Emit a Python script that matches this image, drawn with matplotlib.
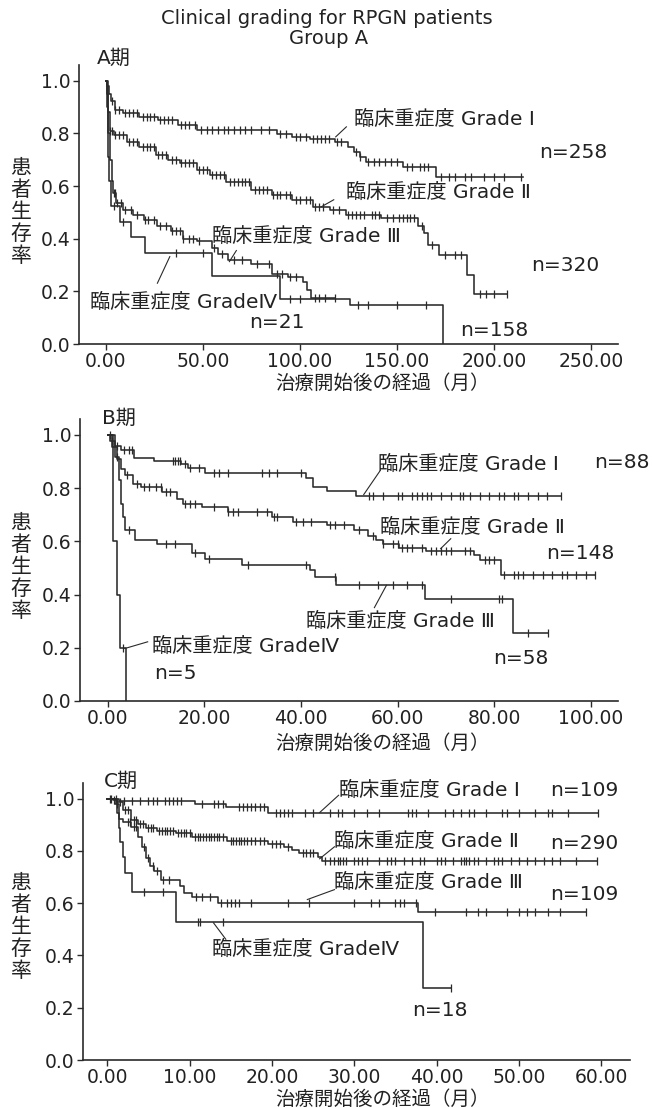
import numpy as np
import matplotlib
matplotlib.use('Agg')
import matplotlib.pyplot as plt
from matplotlib.ticker import FormatStrFormatter

plt.rcParams['font.family'] = ['DejaVu Sans', 'Noto Sans CJK JP']

INK = '#2a2a2a'
TXT = '#222222'
W, H = 652, 1108

# ---------------- A期 (months, survival) ----------------
a1_t = [0, 0.5, 1.5, 2.5, 4.5, 9, 17, 27, 37, 47, 88, 96, 105, 118, 125, 128, 131, 134, 153, 170, 215]
a1_s = [1.0, 0.98, 0.95, 0.925, 0.89, 0.877, 0.864, 0.85, 0.832, 0.812, 0.797, 0.787, 0.777, 0.768,
        0.75, 0.73, 0.71, 0.69, 0.673, 0.635, 0.635]
a1_c = [3, 5, 7, 10, 12, 14, 16, 19, 21, 23, 25, 28, 30, 32, 34, 39, 41, 43, 46, 49, 52, 55, 58, 61, 63,
        66, 69, 72, 75, 80, 84, 90, 93, 98, 100, 103, 107, 109, 111, 113, 115, 119, 121, 129, 131, 135,
        138, 141, 144, 147, 150, 155, 158, 162, 164, 166, 173, 177, 180, 185, 188, 195, 200, 205, 214]

a2_t = [0, 0.5, 1, 2, 4, 10.7, 17, 26, 32, 38.5, 47, 53.5, 62, 75, 85.5, 96, 107, 115.5, 124, 142,
        161, 164, 166, 172, 186, 190, 207]
a2_s = [1.0, 0.95, 0.88, 0.81, 0.793, 0.768, 0.749, 0.717, 0.698, 0.686, 0.66, 0.641, 0.616, 0.584,
        0.565, 0.546, 0.521, 0.508, 0.489, 0.477, 0.45, 0.42, 0.375, 0.337, 0.261, 0.191, 0.191]
a2_c = [2, 3, 5, 7, 9, 12, 14, 16, 19, 21, 23, 25, 27, 29, 31, 34, 36, 39, 41, 43, 45, 48, 50, 52, 55,
        57, 59, 61, 64, 66, 68, 70, 72, 74, 77, 79, 81, 83, 86, 88, 90, 93, 95, 98, 100, 103, 105, 108,
        110, 112, 117, 120, 125, 127, 129, 131, 133, 137, 139, 141, 145, 148, 151, 153, 155, 157, 159,
        163, 168, 175, 180, 183, 193, 196, 200, 207]

a3_t = [0, 0.5, 1, 2, 3, 3.8, 5.5, 9, 14, 19.7, 26.5, 33.4, 40, 47, 54.5, 57.8, 63, 75, 85.6, 94,
        101.6, 103.7, 106, 118]
a3_s = [1.0, 0.9, 0.8, 0.7, 0.62, 0.573, 0.535, 0.51, 0.49, 0.47, 0.45, 0.43, 0.40, 0.39, 0.363,
        0.343, 0.318, 0.303, 0.267, 0.255, 0.236, 0.204, 0.175, 0.175]
a3_c = [4, 5, 6, 8, 10, 13, 16, 20, 22, 25, 28, 31, 34, 36, 38, 40, 43, 45, 48, 56, 60, 66, 70, 78,
        84, 88, 91, 95, 98, 108, 110, 113, 118]

a4_t = [0, 1, 1.7, 2.5, 7.5, 13, 20, 54.5, 90, 126, 174]
a4_s = [1.0, 0.71, 0.62, 0.524, 0.465, 0.408, 0.345, 0.26, 0.17, 0.15, 0.0]
a4_c = [4, 9, 36, 50, 95, 100, 130, 135, 150, 165]

# ---------------- B期 ----------------
b1_t = [0, 0.6, 1.5, 2.7, 5.5, 9.6, 15.2, 16.7, 20.1, 41, 42.6, 45.4, 51.5, 93.8]
b1_s = [1.0, 0.979, 0.96, 0.945, 0.914, 0.904, 0.891, 0.875, 0.857, 0.84, 0.806, 0.791, 0.769, 0.769]
b1_c = [1, 2, 3.5, 4.5, 5, 13.5, 14, 14.5, 15, 16, 17, 19, 22, 23, 25, 32, 33.5, 35, 40, 54, 55, 57,
        60, 61, 63, 64, 65, 66, 67, 69, 71, 73, 73.5, 75, 77, 79, 81, 82, 84, 85, 87, 89, 91, 93.8]

b2_t = [0, 1.0, 1.9, 2.7, 3.6, 5.3, 7, 11.3, 14.3, 15.6, 19.5, 24.9, 34.1, 38.4, 45.3, 50.9, 53.9,
        55.6, 56.9, 60.3, 65.9, 75.8, 77, 81.4, 100.9]
b2_s = [1.0, 0.954, 0.91, 0.873, 0.848, 0.816, 0.804, 0.785, 0.76, 0.741, 0.729, 0.71, 0.691, 0.672,
        0.66, 0.641, 0.622, 0.604, 0.591, 0.575, 0.564, 0.547, 0.529, 0.472, 0.472]
b2_c = [4, 6, 7.5, 8.5, 10, 11, 12, 13, 16, 17, 18, 22, 25, 26, 27, 31, 33, 34.5, 35, 39, 40.5, 42,
        46, 47, 49, 52, 55, 57, 59, 60, 61, 62, 63, 65, 67, 68, 69, 70, 71, 74, 75, 78, 79, 80, 82,
        84, 85, 86, 88, 90, 92, 94, 95, 97, 99, 100.9]

b3_t = [0, 1.5, 2.3, 2.7, 3.2, 3.6, 5.7, 10.3, 17.4, 20.1, 27.8, 41.8, 42.9, 47.3, 65.6, 83.9, 91.2]
b3_s = [1.0, 0.916, 0.829, 0.741, 0.691, 0.644, 0.604, 0.589, 0.556, 0.535, 0.512, 0.491, 0.466,
        0.435, 0.382, 0.254, 0.254]
b3_c = [2, 4.5, 12, 14, 18, 21, 29, 41, 47, 52, 56, 59, 62, 65, 71, 81, 81.5, 87, 91.2]

b4_t = [0, 1.1, 1.9, 2.6, 3.8]
b4_s = [1.0, 0.6, 0.4, 0.2, 0.0]
b4_c = [0.5, 3.2]

# ---------------- C期 ----------------
c1_t = [0, 1.4, 10.7, 14.4, 19.5, 59.6]
c1_s = [1.0, 0.99, 0.978, 0.967, 0.947, 0.947]
c1_c = [0.5, 1, 2, 3, 4, 5, 5.5, 6, 7, 7.5, 8, 8.5, 9, 11.5, 13, 13.5, 14, 16, 16.5, 17, 17.5, 18,
        18.5, 19, 20.5, 21, 21.5, 22, 22.5, 24, 25, 27, 28, 28.5, 30, 31.5, 33, 36.5, 37, 37.5, 39,
        41, 42, 43, 44, 44.5, 46, 48, 48.5, 50, 52, 53.5, 54, 56, 59.6]

c2_t = [0, 0.66, 1.2, 1.9, 2.9, 3.7, 4.7, 6, 8.3, 10.3, 14.6, 19.5, 21.5, 22.5, 23.3, 25.6, 26.1, 59.5]
c2_s = [1.0, 0.995, 0.987, 0.956, 0.918, 0.905, 0.886, 0.876, 0.867, 0.854, 0.838, 0.825, 0.816,
        0.804, 0.791, 0.775, 0.762, 0.762]
c2_c = [0.3, 0.8, 1.5, 2.2, 2.5, 3.2, 3.5, 4, 4.3, 5, 5.3, 5.6, 6.3, 6.6, 7, 7.3, 7.6, 8, 8.6, 9, 9.3,
        9.6, 10, 10.6, 11, 11.3, 11.6, 12, 12.3, 12.6, 13, 13.3, 13.6, 14, 15, 15.3, 15.6, 16, 16.3,
        16.6, 17, 17.5, 18, 18.5, 19, 20, 20.5, 21, 22, 23.8, 24.2, 24.6, 25, 26.5, 27, 27.5, 28, 28.3,
        28.6, 29, 30, 30.5, 31, 31.5, 33, 34, 34.5, 35, 36, 37, 38, 38.5, 40, 40.5, 41, 42, 43, 43.3,
        43.6, 44, 44.5, 45, 46, 47, 47.5, 48, 49, 50, 51, 52, 53, 54, 55, 57, 59.5]

c3_t = [0, 0.9, 1.4, 1.9, 2.9, 3.7, 4.2, 4.7, 5.2, 5.7, 6.5, 8.8, 9.3, 10.3, 13.4, 37.8, 58.1]
c3_s = [1.0, 0.981, 0.924, 0.911, 0.892, 0.854, 0.816, 0.772, 0.741, 0.722, 0.69, 0.665, 0.639,
        0.623, 0.601, 0.566, 0.566]
c3_c = [1.2, 2.5, 2.8, 3.3, 3.5, 4.4, 5, 5.5, 6, 6.8, 7.5, 10.8, 11.5, 12.5, 13.8, 14.5, 15, 15.5,
        16, 17.5, 22, 24.5, 30, 32, 33, 35, 35.5, 36, 37.5, 39.8, 43.6, 45, 46, 48.5, 50, 51, 52,
        53.5, 55, 58.1]

c4_t = [0, 1.2, 1.4, 1.6, 1.9, 2.2, 3.05, 8.4, 38.3, 41.7]
c4_s = [1.0, 0.944, 0.889, 0.833, 0.778, 0.715, 0.642, 0.529, 0.275, 0.275]
c4_c = [4.5, 6.8, 11, 11.3, 14, 41.7]

grade_labels = ['臨床重症度 Grade Ⅰ', '臨床重症度 Grade Ⅱ', '臨床重症度 Grade Ⅲ', '臨床重症度 GradeⅣ']
xlabel = '治療開始後の経過（月）'
ylabel = '患者生存率'


def px_box(left, right, top, bottom):
    return [left / W, 1 - bottom / H, (right - left) / W, (bottom - top) / H]


def km(ax, t, s, cens):
    t = np.asarray(t, float)
    s = np.asarray(s, float)
    ax.step(t, s, where='post', color=INK, lw=1.15)
    idx = np.searchsorted(t, cens, side='right') - 1
    ax.plot(cens, s[idx], ls='none', marker='|', ms=5.5, mew=0.9, color=INK)


def setup(ax, xlim, xticks):
    for sp in ['top', 'right']:
        ax.spines[sp].set_visible(False)
    for sp in ['left', 'bottom']:
        ax.spines[sp].set_color(INK)
        ax.spines[sp].set_linewidth(1.2)
    ax.set_xlim(xlim)
    ax.set_ylim(0, 1.06)
    ax.set_xticks(xticks)
    ax.set_yticks([0, 0.2, 0.4, 0.6, 0.8, 1.0])
    ax.xaxis.set_major_formatter(FormatStrFormatter('%.2f'))
    ax.yaxis.set_major_formatter(FormatStrFormatter('%.1f'))
    ax.tick_params(direction='out', length=4, width=1, colors=INK, labelsize=13.5)
    ax.tick_params(axis='y', pad=2)
    ax.tick_params(axis='x', pad=2)
    for lab in ax.get_xticklabels() + ax.get_yticklabels():
        lab.set_color(TXT)


def notes(ax, items, leaders):
    for txt, x, y, ha in items:
        ax.text(x, y, txt, ha=ha, va='center', fontsize=14.5, color=TXT, clip_on=False)
    for x0, y0, x1, y1 in leaders:
        ax.plot([x0, x1], [y0, y1], color=INK, lw=0.8, clip_on=False)


fig = plt.figure(figsize=(W / 100, H / 100), dpi=100)
fig.patch.set_facecolor('white')

# panel A
axA = fig.add_axes(px_box(79, 618, 65, 344))
setup(axA, (-13.8, 264), [0, 50, 100, 150, 200, 250])
km(axA, a1_t, a1_s, a1_c)
km(axA, a2_t, a2_s, a2_c)
km(axA, a3_t, a3_s, a3_c)
km(axA, a4_t, a4_s, a4_c)
notes(axA,
      [(grade_labels[0], 128, 0.855, 'left'), ('n=258', 241, 0.726, 'center'),
       (grade_labels[1], 124, 0.575, 'left'), ('n=320', 237, 0.30, 'center'),
       (grade_labels[2], 54.6, 0.407, 'left'), (grade_labels[3], -7.9, 0.16, 'left'),
       ('n=21', 88, 0.08, 'center'), ('n=158', 200, 0.05, 'center')],
      [(124, 0.825, 118.5, 0.787), (117.5, 0.548, 111, 0.521),
       (67.3, 0.355, 63.7, 0.313), (33, 0.332, 26.6, 0.231)])

# panel B
axB = fig.add_axes(px_box(80, 618, 419, 701))
setup(axB, (-5.7, 105.6), [0, 20, 40, 60, 80, 100])
km(axB, b1_t, b1_s, b1_c)
km(axB, b2_t, b2_s, b2_c)
km(axB, b3_t, b3_s, b3_c)
km(axB, b4_t, b4_s, b4_c)
notes(axB,
      [(grade_labels[0], 56, 0.891, 'left'), ('n=88', 106.3, 0.897, 'center'),
       (grade_labels[1], 56.4, 0.654, 'left'), ('n=148', 97.7, 0.554, 'center'),
       (grade_labels[2], 41, 0.2975, 'left'), ('n=58', 85.4, 0.16, 'center'),
       (grade_labels[3], 9.2, 0.204, 'left'), ('n=5', 9.6, 0.104, 'left')],
      [(56.4, 0.866, 53, 0.776), (71, 0.61, 68.9, 0.5725),
       (55.2, 0.351, 57.7, 0.435), (8.3, 0.2225, 3.6, 0.1975)])

# panel C
axC = fig.add_axes(px_box(83, 630, 783, 1060))
setup(axC, (-2.95, 63.5), [0, 10, 20, 30, 40, 50, 60])
km(axC, c1_t, c1_s, c1_c)
km(axC, c2_t, c2_s, c2_c)
km(axC, c3_t, c3_s, c3_c)
km(axC, c4_t, c4_s, c4_c)
notes(axC,
      [(grade_labels[0], 28.1, 1.03, 'left'), ('n=109', 57.9, 1.03, 'center'),
       (grade_labels[1], 27.6, 0.835, 'left'), ('n=290', 57.9, 0.829, 'center'),
       (grade_labels[2], 27.6, 0.681, 'left'), ('n=109', 57.9, 0.633, 'center'),
       (grade_labels[3], 12.7, 0.424, 'left'), ('n=18', 40.4, 0.19, 'center')],
      [(28.1, 1.013, 25.8, 0.947), (27.6, 0.816, 25.8, 0.77),
       (27.6, 0.652, 24.3, 0.614), (14.4, 0.462, 12.9, 0.525)])


# titles, panel tags, axis labels (figure pixel positions)
def ftext(x, y, s, **kw):
    fig.text(x / W, 1 - y / H, s, color=TXT, **kw)


ftext(327, 19, 'Clinical grading for RPGN patients', ha='center', va='center', fontsize=14)
ftext(329, 39, 'Group A', ha='center', va='center', fontsize=14)
for tag, x, y in [('A期', 97, 58), ('B期', 102, 418), ('C期', 104, 781)]:
    ftext(x, y, tag, ha='left', va='center', fontsize=14.5)
for y in [383, 743, 1099]:
    ftext(383, y, xlabel, ha='center', va='center', fontsize=14)
# vertical label: one character per line, 22 px apart
for yc in [212, 567, 927]:
    for i, ch in enumerate(ylabel):
        ftext(21, yc + (i - 2) * 22, ch, ha='center', va='center', fontsize=15)

fig.savefig('out.png', dpi=100, facecolor='white')
